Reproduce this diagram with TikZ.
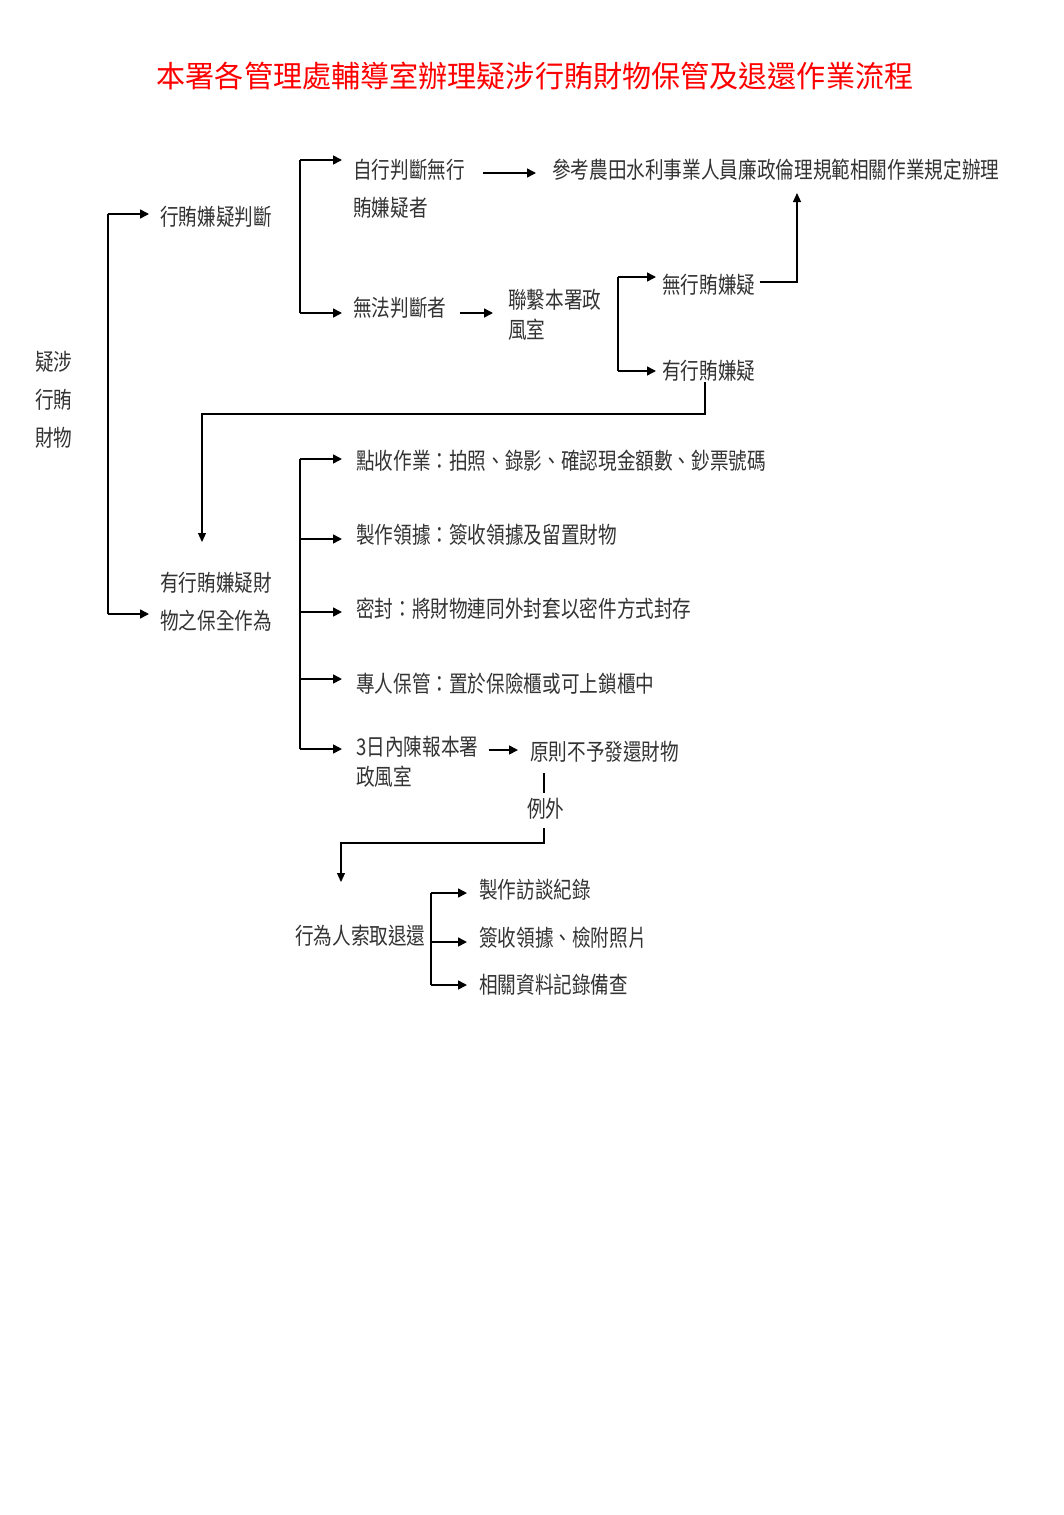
\documentclass[tikz,border=0pt]{standalone}
\usepackage{fontspec}
\usetikzlibrary{arrows.meta}
\newfontfamily\cjk[FakeStretch=0.81]{Noto Sans CJK TC}
\newfontfamily\cjktitle[FakeStretch=0.97]{Noto Sans CJK TC}
\tikzset{
  txt/.style={anchor=west, inner sep=0pt, align=left, text=black!80,
    font=\cjk\fontsize{23}{38}\selectfont},
  txtb/.style={txt, font=\cjk\fontsize{23}{30}\selectfont},
  arr/.style={line width=1.6pt, -{Triangle[length=9pt,width=9pt]}},
  br/.style={line width=1.6pt},
  conn/.style={line width=1.1pt},
  conna/.style={line width=1.1pt, -{Triangle[length=9pt,width=8pt]}},
}
\begin{document}
\begin{tikzpicture}[x=1pt,y=-1pt]
\fill[white] (0,0) rectangle (1064,1515);
\useasboundingbox (0,0) rectangle (1064,1515);

\node[inner sep=0pt, text=red, font=\cjktitle\fontsize{30}{30}\selectfont] (title) at (535,76)
  {本署各管理處輔導室辦理疑涉行賄財物保管及退還作業流程};

% nodes
\node[txt] (src) at (35,400) {疑涉\\行賄\\財物};
\node[txt] (judge) at (160,217) {行賄嫌疑判斷};
\node[txt] (self) at (353,189) {自行判斷無行\\賄嫌疑者};
\node[txt] (ref) at (552,170) {參考農田水利事業人員廉政倫理規範相關作業規定辦理};
\node[txt] (cannot) at (353,308) {無法判斷者};
\node[txtb] (contact) at (508,315) {聯繫本署政\\風室};
\node[txt] (nosusp) at (662,285) {無行賄嫌疑};
\node[txt] (susp) at (662,371) {有行賄嫌疑};
\node[txt] (keep) at (160,602) {有行賄嫌疑財\\物之保全作為};
\node[txt] (s1) at (356,461) {點收作業：拍照、錄影、確認現金額數、鈔票號碼};
\node[txt] (s2) at (356,535) {製作領據：簽收領據及留置財物};
\node[txt] (s3) at (356,609) {密封：將財物連同外封套以密件方式封存};
\node[txt] (s4) at (356,684) {專人保管：置於保險櫃或可上鎖櫃中};
\node[txtb] (s5) at (356,762) {3日內陳報本署\\政風室};
\node[txt] (noreturn) at (530,752) {原則不予發還財物};
\node[txt] (except) at (527,809) {例外};
\node[txt] (ask) at (295,936) {行為人索取退還};
\node[txt] (r1) at (479,890) {製作訪談紀錄};
\node[txt] (r2) at (479,938) {簽收領據、檢附照片};
\node[txt] (r3) at (479,985) {相關資料記錄備查};

% bracket A
\coordinate (A1) at (108,214);
\coordinate (A2) at (108,614);
\draw[br] (A1) -- (A2);
\draw[arr, shorten >=11pt] (A1) -- (A1 -| judge.west);
\draw[arr, shorten >=11pt] (A2) -- (A2 -| keep.west);

% bracket B
\coordinate (B1) at (300,160);
\coordinate (B2) at (300,313);
\draw[br] (B1) -- (B2);
\draw[arr, shorten >=11pt] (B1) -- (B1 -| self.west);
\draw[arr, shorten >=11pt] (B2) -- (B2 -| cannot.west);

% self -> ref
\draw[arr, shorten <=18pt, shorten >=16pt] (self.east |- 0,173) -- (ref.west |- 0,173);
% cannot -> contact
\draw[arr, shorten <=13pt, shorten >=15pt] (cannot.east |- 0,313) -- (contact.west |- 0,313);

% bracket C
\coordinate (C1) at (618,277);
\coordinate (C2) at (618,371);
\draw[br] (C1) -- (C2);
\draw[arr, shorten >=6pt] (C1) -- (C1 -| nosusp.west);
\draw[arr, shorten >=6pt] (C2) -- (C2 -| susp.west);

% nosusp -> ref
\coordinate (D1) at (797,282);
\coordinate (D2) at (797,193);
\draw[conna, shorten <=4pt] (nosusp.east |- D1) -- (D1) -- (D2);

% susp -> keep
\coordinate (E1) at (705,414);
\coordinate (E2) at (202,414);
\coordinate (E3) at (202,542);
\draw[conna] (susp.south -| E1) -- (E1) -- (E2) -- (E3);

% bracket F
\coordinate (F1) at (300,459);
\coordinate (F2) at (300,539);
\coordinate (F3) at (300,612);
\coordinate (F4) at (300,679);
\coordinate (F5) at (300,749);
\draw[br] (F1) -- (F5);
\draw[arr, shorten >=14pt] (F1) -- (F1 -| s1.west);
\draw[arr, shorten >=14pt] (F2) -- (F2 -| s2.west);
\draw[arr, shorten >=14pt] (F3) -- (F3 -| s3.west);
\draw[arr, shorten >=14pt] (F4) -- (F4 -| s4.west);
\draw[arr, shorten >=14pt] (F5) -- (F5 -| s5.west);

% s5 -> noreturn
\draw[arr, shorten <=10pt, shorten >=12pt] (s5.north east |- 0,750) -- (noreturn.west |- 0,750);

% noreturn -> except -> ask
\coordinate (G0) at (544,773);
\coordinate (G1) at (544,793);
\draw[conn] (G0) -- (G1);
\coordinate (H0) at (544,828);
\coordinate (H1) at (544,843);
\coordinate (H2) at (341,843);
\coordinate (H3) at (341,882);
\draw[conna] (H0) -- (H1) -- (H2) -- (H3);

% bracket G
\coordinate (K1) at (431,893);
\coordinate (K2) at (431,942);
\coordinate (K3) at (431,985);
\draw[br] (K1) -- (K3);
\draw[arr, shorten >=12pt] (K1) -- (K1 -| r1.west);
\draw[arr, shorten >=12pt] (K2) -- (K2 -| r2.west);
\draw[arr, shorten >=12pt] (K3) -- (K3 -| r3.west);
\end{tikzpicture}
\end{document}
